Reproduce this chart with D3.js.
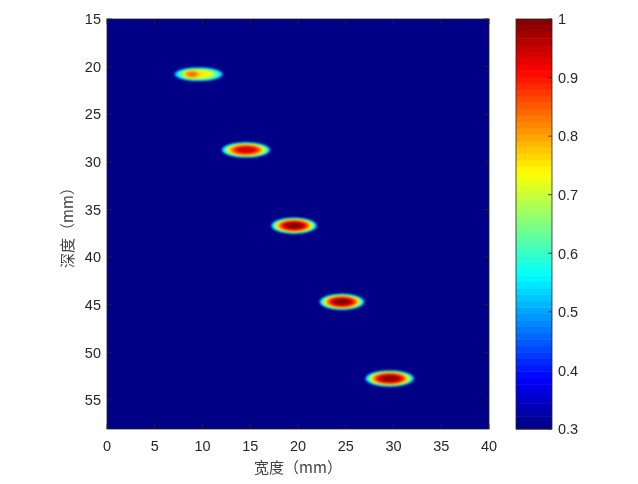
<!DOCTYPE html>
<html>
<head>
<meta charset="utf-8">
<script src="https://cdn.jsdelivr.net/npm/d3@7"></script>
<style>
  html, body { margin: 0; padding: 0; background: #fff; }
  #wrap { position: relative; width: 638px; height: 484px; }
  canvas, svg { position: absolute; left: 0; top: 0; }
</style>
</head>
<body>
<div id="wrap">
  <canvas id="heat" width="638" height="484"></canvas>
  <svg id="chart" width="638" height="484"></svg>
</div>
<script>
// ---- data ----
const xTicks = [0, 5, 10, 15, 20, 25, 30, 35, 40];
const yTicks = [15, 20, 25, 30, 35, 40, 45, 50, 55];
const cTicks = [0.3, 0.4, 0.5, 0.6, 0.7, 0.8, 0.9, 1];
const xDomain = [0, 40];
const yDomain = [15, 58.05];
const cDomain = [0.3, 1];
// point targets (blob components): centre x, centre y (mm), peak value, half-extent x/y (mm)
const blobX    = [9.6, 8.9, 14.55, 19.58, 24.6, 29.6];
const blobY    = [20.8, 20.8, 28.75, 36.7, 44.7, 52.75];
const blobPeak = [0.76, 0.84, 0.95, 1.0, 1.0, 1.0];
const blobHX   = [2.9, 1.5, 2.55, 2.35, 2.3, 2.5];
const blobHY   = [0.84, 0.7, 0.82, 0.84, 0.84, 0.85];
const cutoff = 0.48;   // values under this shown as background
const xLabel = "宽度（mm）";
const yLabel = "深度（mm）";

// ---- layout ----
const L = 107, R = 489, T = 19, B = 429;
const cbL = 516, cbR = 552;
const axisColor = "#262626";
const font = "'Liberation Sans', Arial, sans-serif";

const x = d3.scaleLinear().domain(xDomain).range([L, R]);
const y = d3.scaleLinear().domain(yDomain).range([T, B]);
const cy = d3.scaleLinear().domain(cDomain).range([B, T]);

// MATLAB jet(64)
function jet(t) {
  const n = 64;
  const i = Math.max(0, Math.min(n - 1, Math.floor(t * n)));
  const v = (i + 0.5) / n;
  const cl = a => Math.max(0, Math.min(1, a));
  const r = cl(1.5 - Math.abs(4 * v - 3));
  const g = cl(1.5 - Math.abs(4 * v - 2));
  const b = cl(1.5 - Math.abs(4 * v - 1));
  return [Math.round(r * 255), Math.round(g * 255), Math.round(b * 255)];
}
const cNorm = d3.scaleLinear().domain(cDomain).range([0, 0.99999]).clamp(true);

function field(mx, my) {
  let v = cDomain[0];
  for (let k = 0; k < blobX.length; k++) {
    const dx = (mx - blobX[k]) / blobHX[k];
    const dy = (my - blobY[k]) / blobHY[k];
    const r = Math.sqrt(dx * dx + dy * dy);
    const val = blobPeak[k] * Math.pow(2, -r * r * r);
    if (val > v) v = val;
  }
  return v < cutoff ? cDomain[0] : v;
}

// ---- heatmap on canvas ----
const W = R - L, H = B - T;
const off = document.createElement("canvas");
off.width = W; off.height = H;
const octx = off.getContext("2d");
const img = octx.createImageData(W, H);
for (let py = 0; py < H; py++) {
  for (let px = 0; px < W; px++) {
    let rr = 0, gg = 0, bb = 0;
    for (let sy = 0; sy < 2; sy++) for (let sx = 0; sx < 2; sx++) {
      const mx = x.invert(L + px + 0.25 + sx * 0.5);
      const my = y.invert(T + py + 0.25 + sy * 0.5);
      const c = jet(cNorm(field(mx, my)));
      rr += c[0]; gg += c[1]; bb += c[2];
    }
    const o = (py * W + px) * 4;
    img.data[o] = rr / 4; img.data[o + 1] = gg / 4; img.data[o + 2] = bb / 4; img.data[o + 3] = 255;
  }
}
octx.putImageData(img, 0, 0);
const cv = document.getElementById("heat");
const ctx = cv.getContext("2d");
const bg = jet(0);
ctx.fillStyle = `rgb(${bg[0]},${bg[1]},${bg[2]})`;
ctx.fillRect(L, T, W, H);
ctx.save();
ctx.beginPath(); ctx.rect(L, T, W, H); ctx.clip();
ctx.filter = "blur(0.9px)";
ctx.drawImage(off, L, T);
ctx.restore();

// ---- colorbar bands ----
const svg = d3.select("#chart");
const bands = d3.range(64);
const bandScale = d3.scaleLinear().domain([0, 64]).range(cDomain);
svg.append("g").selectAll("rect").data(bands).join("rect")
  .attr("x", cbL)
  .attr("width", cbR - cbL)
  .attr("y", d => cy(bandScale(d + 1)))
  .attr("height", d => cy(bandScale(d)) - cy(bandScale(d + 1)) + 0.5)
  .attr("fill", d => { const c = jet((d + 0.5) / 64); return `rgb(${c[0]},${c[1]},${c[2]})`; });

// ---- axes ----
const tickLen = 5;
const gAx = svg.append("g").attr("font-family", font).attr("font-size", 14.5).attr("fill", axisColor);

svg.append("rect").attr("x", L).attr("y", T).attr("width", R - L).attr("height", B - T)
  .attr("fill", "none").attr("stroke", axisColor).attr("stroke-width", 0.8);
svg.append("rect").attr("x", cbL).attr("y", T).attr("width", cbR - cbL).attr("height", B - T)
  .attr("fill", "none").attr("stroke", axisColor).attr("stroke-width", 0.8);

const ticks = svg.append("g").attr("stroke", axisColor).attr("stroke-width", 0.8);
xTicks.forEach(t => {
  ticks.append("line").attr("x1", x(t)).attr("x2", x(t)).attr("y1", B).attr("y2", B - tickLen);
  ticks.append("line").attr("x1", x(t)).attr("x2", x(t)).attr("y1", T).attr("y2", T + tickLen);
  gAx.append("text").attr("x", x(t)).attr("y", B + 22).attr("text-anchor", "middle").text(t);
});
yTicks.forEach(t => {
  ticks.append("line").attr("x1", L).attr("x2", L + tickLen).attr("y1", y(t)).attr("y2", y(t));
  ticks.append("line").attr("x1", R).attr("x2", R - tickLen).attr("y1", y(t)).attr("y2", y(t));
  gAx.append("text").attr("x", L - 6).attr("y", y(t)).attr("dy", "0.36em").attr("text-anchor", "end").text(t);
});
cTicks.forEach(t => {
  ticks.append("line").attr("x1", cbR).attr("x2", cbR - 4).attr("y1", cy(t)).attr("y2", cy(t));
  gAx.append("text").attr("x", cbR + 6).attr("y", cy(t)).attr("dy", "0.36em").attr("text-anchor", "start").text(t);
});

svg.append("text").attr("x", (L + R) / 2).attr("y", B + 44)
  .attr("text-anchor", "middle").attr("font-family", "'Noto Sans CJK SC', sans-serif")
  .attr("font-size", 15).attr("fill", "#404040").text(xLabel);
svg.append("text").attr("transform", `translate(73,${(T + B) / 2}) rotate(-90)`)
  .attr("text-anchor", "middle").attr("font-family", "'Noto Sans CJK SC', sans-serif")
  .attr("font-size", 15).attr("fill", "#404040").text(yLabel);
</script>
</body>
</html>
